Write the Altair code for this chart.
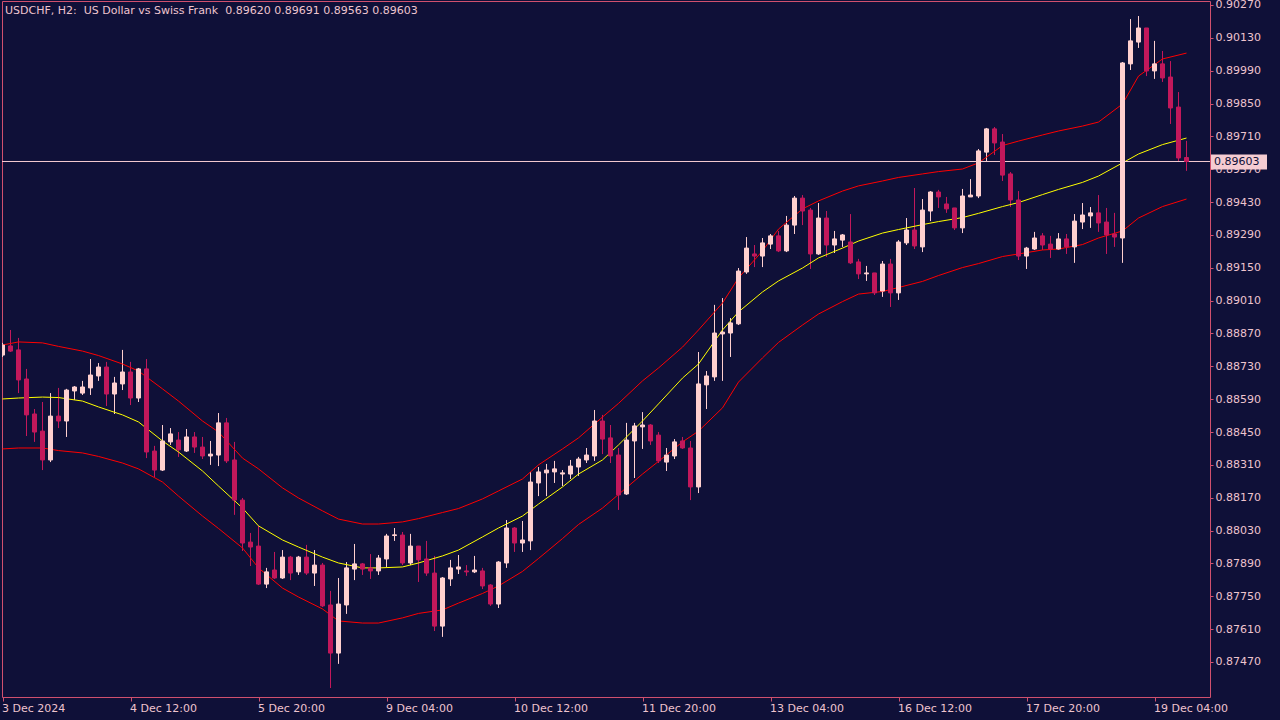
import altair as alt
import pandas as pd

# ---------------- data ----------------
opens = [0.88778, 0.88817, 0.88800, 0.88676, 0.88527, 0.88454, 0.88331, 0.88518, 0.88497, 0.88625,
         0.88616, 0.88638, 0.88689, 0.88727, 0.88612, 0.88655, 0.88706, 0.88595, 0.88719, 0.88369,
         0.88288, 0.88408, 0.88416, 0.88369, 0.88429, 0.88386, 0.88348, 0.88352, 0.88489, 0.88331,
         0.88160, 0.87981, 0.87964, 0.87802, 0.87862, 0.87828, 0.87917, 0.87854, 0.87917, 0.87849,
         0.87883, 0.87713, 0.87508, 0.87713, 0.87866, 0.87888, 0.87871, 0.87858, 0.87909, 0.88009,
         0.88011, 0.87892, 0.87964, 0.87909, 0.87849, 0.87623, 0.87824, 0.87866, 0.87858, 0.87854,
         0.87858, 0.87798, 0.87717, 0.87892, 0.88041, 0.87977, 0.87986, 0.88233, 0.88276, 0.88280,
         0.88271, 0.88271, 0.88301, 0.88331, 0.88348, 0.88497, 0.88425, 0.88352, 0.88186, 0.88412,
         0.88472, 0.88480, 0.88437, 0.88322, 0.88348, 0.88412, 0.88382, 0.88216, 0.88651, 0.88685,
         0.88868, 0.88872, 0.88911, 0.89132, 0.89209, 0.89200, 0.89251, 0.89286, 0.89222, 0.89332,
         0.89447, 0.89396, 0.89209, 0.89362, 0.89247, 0.89268, 0.89260, 0.89175, 0.89124, 0.89128,
         0.89051, 0.89166, 0.89043, 0.89256, 0.89311, 0.89239, 0.89392, 0.89473, 0.89422, 0.89405,
         0.89320, 0.89452, 0.89456, 0.89643, 0.89742, 0.89686, 0.89550, 0.89439, 0.89200, 0.89230,
         0.89286, 0.89251, 0.89230, 0.89273, 0.89239, 0.89345, 0.89371, 0.89384, 0.89345, 0.89294,
         0.89277, 0.90019, 0.90112, 0.90172, 0.89989, 0.90019, 0.89963, 0.89835, 0.89620]
highs = [0.88830, 0.88885, 0.88851, 0.88719, 0.88548, 0.88578, 0.88616, 0.88638, 0.88634, 0.88646,
         0.88668, 0.88761, 0.88744, 0.88749, 0.88685, 0.88800, 0.88749, 0.88723, 0.88761, 0.88391,
         0.88480, 0.88467, 0.88450, 0.88463, 0.88450, 0.88429, 0.88412, 0.88531, 0.88510, 0.88408,
         0.88169, 0.88020, 0.88050, 0.87871, 0.87939, 0.87947, 0.87922, 0.87922, 0.87969, 0.87947,
         0.87892, 0.87773, 0.87828, 0.87896, 0.87973, 0.87892, 0.87930, 0.87926, 0.88016, 0.88041,
         0.88024, 0.88016, 0.87964, 0.87986, 0.87922, 0.87832, 0.87905, 0.87926, 0.87883, 0.87922,
         0.87871, 0.87802, 0.87900, 0.88075, 0.88045, 0.88071, 0.88280, 0.88301, 0.88314, 0.88327,
         0.88288, 0.88331, 0.88344, 0.88382, 0.88544, 0.88523, 0.88480, 0.88382, 0.88489, 0.88489,
         0.88535, 0.88484, 0.88450, 0.88382, 0.88420, 0.88429, 0.88412, 0.88791, 0.88710, 0.88992,
         0.89021, 0.88936, 0.89149, 0.89281, 0.89247, 0.89277, 0.89294, 0.89307, 0.89371, 0.89456,
         0.89460, 0.89405, 0.89426, 0.89392, 0.89307, 0.89294, 0.89379, 0.89188, 0.89158, 0.89128,
         0.89179, 0.89188, 0.89268, 0.89362, 0.89490, 0.89443, 0.89477, 0.89482, 0.89452, 0.89405,
         0.89486, 0.89528, 0.89656, 0.89746, 0.89750, 0.89720, 0.89558, 0.89477, 0.89239, 0.89303,
         0.89298, 0.89286, 0.89298, 0.89294, 0.89379, 0.89426, 0.89409, 0.89460, 0.89405, 0.89384,
         0.90027, 0.90210, 0.90223, 0.90172, 0.90117, 0.90074, 0.90031, 0.89899, 0.89691]
lows = [0.88770, 0.88791, 0.88616, 0.88433, 0.88408, 0.88288, 0.88322, 0.88467, 0.88429, 0.88587,
        0.88608, 0.88608, 0.88668, 0.88561, 0.88527, 0.88629, 0.88565, 0.88578, 0.88339, 0.88258,
        0.88284, 0.88395, 0.88344, 0.88365, 0.88361, 0.88335, 0.88310, 0.88305, 0.88318, 0.88097,
        0.87943, 0.87879, 0.87798, 0.87785, 0.87824, 0.87824, 0.87819, 0.87841, 0.87841, 0.87794,
        0.87704, 0.87359, 0.87462, 0.87675, 0.87819, 0.87841, 0.87824, 0.87841, 0.87875, 0.87986,
        0.87883, 0.87883, 0.87811, 0.87837, 0.87602, 0.87577, 0.87794, 0.87845, 0.87837, 0.87849,
        0.87781, 0.87709, 0.87700, 0.87871, 0.87939, 0.87939, 0.87947, 0.88177, 0.88177, 0.88233,
        0.88220, 0.88250, 0.88263, 0.88318, 0.88327, 0.88356, 0.88318, 0.88118, 0.88182, 0.88254,
        0.88378, 0.88395, 0.88318, 0.88284, 0.88335, 0.88378, 0.88160, 0.88190, 0.88548, 0.88668,
        0.88668, 0.88770, 0.88906, 0.89124, 0.89153, 0.89153, 0.89230, 0.89217, 0.89217, 0.89294,
        0.89332, 0.89145, 0.89205, 0.89196, 0.89213, 0.89239, 0.89166, 0.89102, 0.89094, 0.89034,
        0.89026, 0.88983, 0.89013, 0.89247, 0.89230, 0.89217, 0.89349, 0.89405, 0.89384, 0.89311,
        0.89298, 0.89452, 0.89447, 0.89605, 0.89631, 0.89520, 0.89409, 0.89183, 0.89145, 0.89226,
        0.89226, 0.89192, 0.89226, 0.89209, 0.89171, 0.89315, 0.89320, 0.89303, 0.89209, 0.89239,
        0.89171, 0.89993, 0.90087, 0.89967, 0.89955, 0.89942, 0.89763, 0.89601, 0.89563]
closes = [0.88821, 0.88795, 0.88672, 0.88523, 0.88450, 0.88331, 0.88518, 0.88497, 0.88629, 0.88642,
          0.88642, 0.88693, 0.88727, 0.88612, 0.88659, 0.88706, 0.88595, 0.88719, 0.88365, 0.88288,
          0.88412, 0.88442, 0.88374, 0.88429, 0.88386, 0.88348, 0.88356, 0.88489, 0.88327, 0.88160,
          0.87977, 0.87960, 0.87802, 0.87854, 0.87828, 0.87917, 0.87849, 0.87917, 0.87849, 0.87883,
          0.87709, 0.87508, 0.87717, 0.87871, 0.87888, 0.87866, 0.87858, 0.87913, 0.88007, 0.88012,
          0.87892, 0.87964, 0.87905, 0.87849, 0.87623, 0.87828, 0.87871, 0.87875, 0.87854, 0.87862,
          0.87794, 0.87717, 0.87896, 0.88041, 0.87977, 0.87990, 0.88237, 0.88280, 0.88288, 0.88293,
          0.88276, 0.88305, 0.88335, 0.88352, 0.88497, 0.88420, 0.88348, 0.88182, 0.88416, 0.88476,
          0.88480, 0.88412, 0.88327, 0.88352, 0.88408, 0.88382, 0.88216, 0.88655, 0.88689, 0.88872,
          0.88876, 0.88915, 0.89136, 0.89234, 0.89200, 0.89256, 0.89286, 0.89222, 0.89332, 0.89447,
          0.89392, 0.89209, 0.89362, 0.89247, 0.89273, 0.89290, 0.89171, 0.89124, 0.89128, 0.89043,
          0.89166, 0.89043, 0.89260, 0.89311, 0.89243, 0.89396, 0.89473, 0.89452, 0.89401, 0.89320,
          0.89456, 0.89460, 0.89648, 0.89742, 0.89682, 0.89545, 0.89439, 0.89200, 0.89234, 0.89277,
          0.89247, 0.89230, 0.89273, 0.89239, 0.89349, 0.89375, 0.89384, 0.89341, 0.89290, 0.89281,
          0.90023, 0.90117, 0.90172, 0.89989, 0.90019, 0.89959, 0.89831, 0.89618, 0.89603]

band_idx = [0, 2, 5, 7, 10, 12, 15, 17, 20, 22, 25, 27, 30, 32, 35, 37, 40, 42, 45, 47,
            50, 52, 55, 57, 60, 62, 65, 67, 70, 72, 75, 77, 80, 82, 85, 87, 90, 92, 95, 97,
            100, 102, 105, 107, 110, 112, 115, 117, 120, 122, 125, 127, 130, 132, 135, 137,
            140, 142, 145, 148]
band_mid = [0.88591, 0.88595, 0.88599, 0.88597, 0.88582, 0.88557, 0.88523, 0.88493, 0.88412, 0.88365,
            0.88284, 0.88220, 0.88126, 0.88050, 0.87990, 0.87960, 0.87917, 0.87892, 0.87871, 0.87871,
            0.87875, 0.87892, 0.87922, 0.87947, 0.88003, 0.88041, 0.88092, 0.88143, 0.88216, 0.88271,
            0.88331, 0.88395, 0.88497, 0.88570, 0.88680, 0.88740, 0.88885, 0.88962, 0.89047, 0.89094,
            0.89149, 0.89192, 0.89234, 0.89264, 0.89298, 0.89313, 0.89334, 0.89347, 0.89364, 0.89382,
            0.89411, 0.89428, 0.89462, 0.89484, 0.89514, 0.89541, 0.89597, 0.89635, 0.89675, 0.89703]
band_up = [0.88821, 0.88834, 0.88830, 0.88815, 0.88795, 0.88776, 0.88740, 0.88710, 0.88634, 0.88582,
           0.88497, 0.88450, 0.88339, 0.88293, 0.88212, 0.88169, 0.88114, 0.88079, 0.88058, 0.88058,
           0.88067, 0.88081, 0.88107, 0.88124, 0.88165, 0.88199, 0.88250, 0.88310, 0.88378, 0.88425,
           0.88514, 0.88572, 0.88668, 0.88723, 0.88812, 0.88885, 0.89000, 0.89107, 0.89222, 0.89315,
           0.89401, 0.89435, 0.89477, 0.89499, 0.89520, 0.89535, 0.89550, 0.89560, 0.89571, 0.89597,
           0.89671, 0.89690, 0.89716, 0.89733, 0.89754, 0.89771, 0.89848, 0.89967, 0.90040, 0.90065]
band_lo = [0.88378, 0.88382, 0.88382, 0.88371, 0.88361, 0.88346, 0.88318, 0.88293, 0.88237, 0.88177,
           0.88092, 0.88039, 0.87956, 0.87871, 0.87785, 0.87747, 0.87696, 0.87645, 0.87636, 0.87636,
           0.87658, 0.87677, 0.87692, 0.87721, 0.87762, 0.87794, 0.87856, 0.87911, 0.87996, 0.88056,
           0.88126, 0.88184, 0.88271, 0.88325, 0.88408, 0.88454, 0.88553, 0.88663, 0.88766, 0.88832,
           0.88906, 0.88953, 0.89006, 0.89038, 0.89049, 0.89066, 0.89092, 0.89117, 0.89151, 0.89168,
           0.89198, 0.89209, 0.89226, 0.89230, 0.89249, 0.89277, 0.89307, 0.89362, 0.89411, 0.89443]

price_ticks = [0.87470, 0.87610, 0.87750, 0.87890, 0.88030, 0.88170, 0.88310, 0.88450, 0.88590,
               0.88730, 0.88870, 0.89010, 0.89150, 0.89290, 0.89430, 0.89570, 0.89710, 0.89850,
               0.89990, 0.90130, 0.90270]
time_idx = [0, 16, 32, 48, 64, 80, 96, 112, 128, 144]
time_labels = ["3 Dec 2024", "4 Dec 12:00", "5 Dec 20:00", "9 Dec 04:00", "10 Dec 12:00",
               "11 Dec 20:00", "13 Dec 04:00", "16 Dec 12:00", "17 Dec 20:00", "19 Dec 04:00"]

title_text = "USDCHF, H2:  US Dollar vs Swiss Frank  0.89620 0.89691 0.89563 0.89603"
last_price = 0.89603
last_label = "0.89603"

# ---------------- style ----------------
BG = "#0F1038"
BULL = "#FFD0CF"
BEAR = "#C2185B"
FRAME = "#D0506E"
TEXT = "#EEC4CE"
PRICE_LINE = "#F5CCD2"
MID = "#FFFF00"
BAND = "#FF0000"
FONT = "DejaVu Sans"

W, H = 1208, 696
X_DOMAIN = [-0.0625, 150.9375]
Y_DOMAIN = [0.873208, 0.90287]

candles = pd.DataFrame({"i": list(range(len(opens))), "o": opens, "h": highs, "l": lows, "c": closes})
candles["dir"] = ["bull" if c >= o else "bear" for o, c in zip(opens, closes)]
bands = pd.DataFrame({"i": band_idx, "mid": band_mid, "up": band_up, "lo": band_lo})
last_df = pd.DataFrame({"p": [last_price], "t": [last_label]})
# SVG collapses runs of spaces: keep the doubled gaps with a no-break space
title_df = pd.DataFrame({"t": [title_text.replace("  ", " \u00a0")]})

xscale = alt.Scale(domain=X_DOMAIN, nice=False, zero=False)
yscale = alt.Scale(domain=Y_DOMAIN, nice=False, zero=False)
dir_scale = alt.Scale(domain=["bull", "bear"], range=[BULL, BEAR])
color = alt.Color("dir:N", scale=dir_scale, legend=None)

label_expr = "[" + ",".join("'" + s + "'" for s in time_labels) + "][indexof([" + \
    ",".join(str(v) for v in time_idx) + "], datum.value)]"

xaxis = alt.Axis(values=time_idx, labelExpr=label_expr, orient="bottom", grid=False, domain=False,
                 ticks=True, tickSize=4, tickColor=FRAME, labelColor=TEXT, labelFont=FONT,
                 labelFontSize=11, labelAlign="left", labelBaseline="top", labelPadding=1,
                 labelOverlap=False, labelBound=False, labelFlush=False, title=None, labelOffset=-1)
yaxis = alt.Axis(values=price_ticks, format=".5f", orient="right", grid=False, domain=False,
                 ticks=True, tickSize=3, tickColor=FRAME, labelColor=TEXT, labelFont=FONT,
                 labelFontSize=11, labelAlign="left", labelBaseline="middle", labelPadding=2,
                 labelOverlap=False, labelBound=False, labelFlush=False, title=None)


def X(field):
    return alt.X(field, type="quantitative", scale=xscale, axis=xaxis)


def Y(field):
    return alt.Y(field, type="quantitative", scale=yscale, axis=yaxis)


base = alt.Chart(candles)

wicks = base.mark_rule(strokeWidth=1, clip=True).encode(
    x=X("i"), y=Y("h"), y2="l:Q", color=color,
)

bodies = base.transform_calculate(
    x1="datum.i - 0.25", x2="datum.i + 0.25"
).mark_rect(strokeWidth=1, clip=True).encode(
    x=X("x1"), x2="x2:Q", y=Y("o"), y2="c:Q",
    color=color,
    stroke=alt.Stroke("dir:N", scale=dir_scale, legend=None),
)

bchart = alt.Chart(bands)
mid_line = bchart.mark_line(color=MID, strokeWidth=1, clip=True).encode(x=X("i"), y=Y("mid"))
up_line = bchart.mark_line(color=BAND, strokeWidth=1, clip=True).encode(x=X("i"), y=Y("up"))
lo_line = bchart.mark_line(color=BAND, strokeWidth=1, clip=True).encode(x=X("i"), y=Y("lo"))

lchart = alt.Chart(last_df)
price_rule = lchart.mark_rule(color=PRICE_LINE, strokeWidth=1).encode(y=Y("p"))
price_box = lchart.mark_rect(color=PRICE_LINE, yOffset=-7, y2Offset=8).encode(
    x=alt.value(W + 1), x2=alt.value(W + 57), y=Y("p"), y2="p:Q")
price_text = lchart.mark_text(color=BG, font=FONT, fontSize=11, align="left", baseline="middle", dy=1).encode(
    x=alt.value(W + 4), y=Y("p"), text="t:N")

title_mark = alt.Chart(title_df).mark_text(color=TEXT, font=FONT, fontSize=11, align="left",
                                           baseline="middle").encode(
    x=alt.value(3), y=alt.value(10), text="t:N")

chart = alt.layer(
    wicks, mid_line, up_line, lo_line, price_rule, bodies, price_box, price_text, title_mark
).resolve_scale(color="shared").properties(
    width=W, height=H,
    background=BG,
    padding={"left": 2, "top": 1, "right": 70, "bottom": 23},
    autosize=alt.AutoSizeParams(type="none"),
).configure_view(stroke=FRAME, strokeWidth=1, fill=BG).configure_axis(labelOverlap=False)

chart.save("out.html", embed_options={"renderer": "svg", "actions": False})
